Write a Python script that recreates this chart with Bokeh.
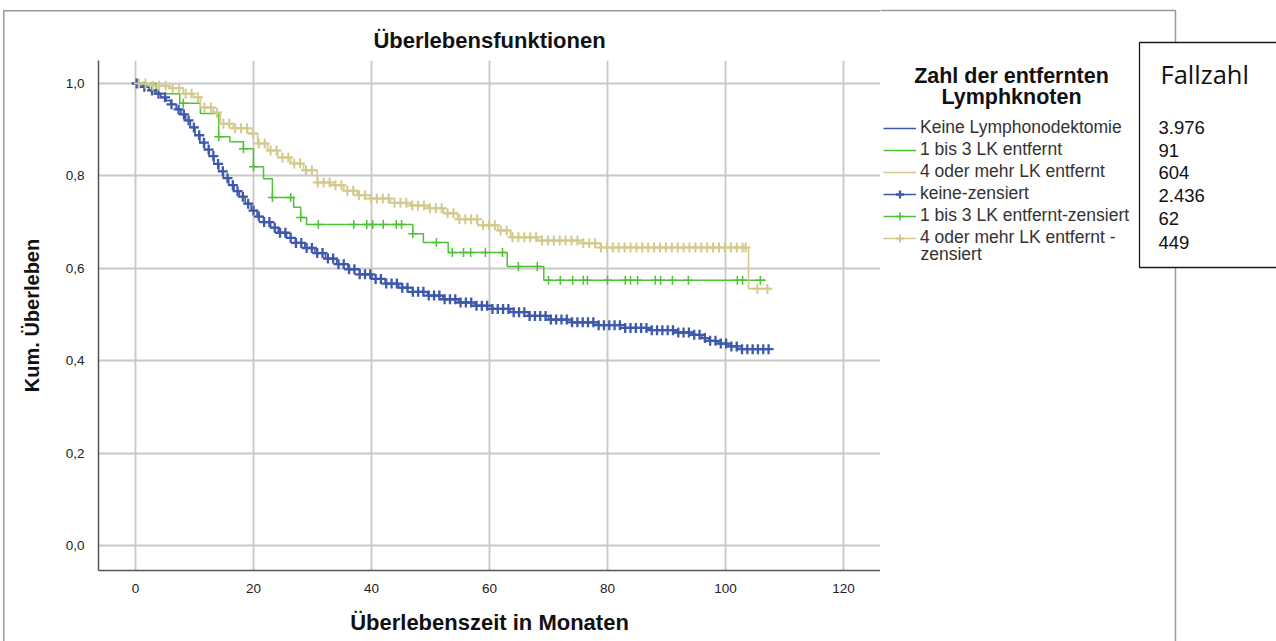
import numpy as np
from bokeh.plotting import figure
from bokeh.layouts import row
from bokeh.models import (FixedTicker, Label, BoxAnnotation, Legend, LegendItem, Range1d)
from bokeh.embed import file_html
from bokeh.resources import INLINE

# ---------------- data ----------------
x_ticks = [0, 20, 40, 60, 80, 100, 120]
y_ticks = [0.0, 0.2, 0.4, 0.6, 0.8, 1.0]
y_tick_labels = ["0,0", "0,2", "0,4", "0,6", "0,8", "1,0"]

group_labels = ["Keine Lymphonodektomie", "1 bis 3 LK entfernt", "4 oder mehr LK entfernt",
                "keine-zensiert", "1 bis 3 LK entfernt-zensiert", "4 oder mehr LK entfernt -"]
fallzahl = ["3.976", "91", "604", "2.436", "62", "449"]

blue_t = [0, 1.2, 2.3, 3.3, 4.3, 5.2, 6.0, 6.9, 7.7, 8.5, 9.3, 10.1, 10.9, 11.7, 12.5, 13.3, 14.1,
          14.9, 15.8, 16.7, 17.6, 18.6, 19.6, 20.6, 21.7, 22.9, 24.2, 25.6, 27.1, 28.7, 30.4, 32.2,
          34.1, 36.0, 38.0, 40.1, 42.3, 44.6, 47.0, 49.5, 52.1, 54.8, 57.6, 60.5, 63.5, 66.6, 70.0,
          74.0, 78.5, 83.0, 87.5, 91.5, 94.5, 96.0, 97.2, 98.8, 100.5, 102.0, 107.6]
blue_s = [1.0, 0.993, 0.985, 0.978, 0.97, 0.963, 0.955, 0.944, 0.933, 0.92, 0.905, 0.888, 0.872,
          0.857, 0.843, 0.826, 0.81, 0.795, 0.78, 0.767, 0.755, 0.74, 0.725, 0.712, 0.7, 0.688,
          0.677, 0.666, 0.655, 0.644, 0.633, 0.621, 0.609, 0.598, 0.587, 0.577, 0.567, 0.558,
          0.549, 0.541, 0.533, 0.526, 0.519, 0.512, 0.505, 0.497, 0.489, 0.483, 0.477, 0.471,
          0.466, 0.461, 0.456, 0.449, 0.443, 0.437, 0.431, 0.425, 0.425]
blue_cens = [0.2, 1.5, 2.8, 3.9, 5.0, 6.1, 7.3, 8.2, 9.0, 9.9, 10.8, 11.6, 12.4, 13.2, 14.0, 14.8,
             15.6, 16.5, 17.3, 18.2, 19.1, 20.0, 20.9, 21.8, 22.7, 23.6, 24.5, 25.4, 26.3, 27.2,
             28.1, 29.0, 29.9, 30.8, 31.7, 32.6, 33.5, 34.4, 35.3, 36.2, 37.1, 38.0, 38.9, 39.8,
             40.7, 41.6, 42.5, 43.4, 44.3, 45.2, 46.1, 47.0, 47.9, 48.8, 49.7, 50.6, 51.5, 52.4,
             53.3, 54.2, 55.1, 56.0, 56.9, 57.8, 58.7, 59.6, 60.5, 61.4, 62.3, 63.2, 64.1, 65.0,
             65.9, 66.8, 67.7, 68.6, 69.5, 70.4, 71.3, 72.2, 73.1, 74.0, 74.9, 75.8, 76.7, 77.6,
             78.5, 79.4, 80.3, 81.2, 82.1, 83.0, 83.9, 84.8, 85.7, 86.6, 87.5, 88.4, 89.3, 90.2,
             91.1, 92.0, 92.9, 93.8, 94.7, 95.6, 96.5, 97.4, 98.3, 99.2, 100.1, 101.0, 101.9,
             102.8, 103.7, 104.6, 105.5, 106.4, 107.3]

green_t = [0, 3.5, 7.5, 11.0, 14.1, 16.0, 18.3, 20.0, 21.7, 23.2, 26.8, 28.0, 29.0, 47.0, 48.8,
           53.0, 63.0, 69.2, 106.8]
green_s = [1.0, 0.978, 0.957, 0.935, 0.885, 0.874, 0.859, 0.82, 0.794, 0.753, 0.732, 0.71, 0.695,
           0.675, 0.656, 0.634, 0.604, 0.574, 0.574]
green_cens = [8.1, 14.1, 18.3, 20.0, 23.2, 26.3, 28.0, 31.0, 37.0, 39.2, 40.2, 42.0, 44.2, 45.1,
              47.0, 51.0, 53.7, 55.6, 56.8, 59.3, 62.2, 64.9, 68.1, 70.0, 72.0, 74.1, 75.9, 76.6,
              80.0, 83.0, 83.9, 85.1, 88.1, 89.0, 91.0, 93.7, 102.0, 102.9, 105.9]

tan_t = [0, 2.0, 5.9, 8.1, 9.8, 11.0, 13.2, 14.4, 16.6, 19.0, 20.7, 22.4, 24.1, 26.3, 28.5, 30.8,
         33.0, 35.3, 37.6, 39.8, 43.2, 46.6, 49.5, 52.2, 54.6, 58.0, 61.4, 63.6, 68.1, 75.9, 78.8,
         103.9, 107.6]
tan_s = [1.0, 0.995, 0.99, 0.978, 0.97, 0.948, 0.937, 0.913, 0.903, 0.892, 0.87, 0.855, 0.84,
         0.827, 0.812, 0.786, 0.78, 0.768, 0.758, 0.751, 0.742, 0.736, 0.73, 0.719, 0.706, 0.693,
         0.682, 0.667, 0.66, 0.654, 0.645, 0.556, 0.556]
tan_cens = [0.6, 1.7, 2.9, 4.0, 5.1, 6.3, 7.4, 8.5, 9.5, 10.6, 11.7, 12.8, 13.8, 14.9, 15.9, 16.9,
            17.9, 18.9, 19.9, 20.9, 21.9, 22.9, 23.9, 24.9, 25.9, 26.9, 27.9, 28.9, 29.9, 30.9,
            31.9, 32.9, 33.9, 34.9, 35.9, 36.9, 37.9, 38.9, 39.9, 40.9, 41.9, 42.9, 43.9, 44.9,
            45.9, 46.9, 47.9, 48.9, 49.9, 50.9, 51.9, 52.9, 53.9, 54.9, 55.9, 56.9, 57.9, 58.9,
            59.9, 60.9, 61.9, 62.9, 63.9, 64.9, 65.9, 66.9, 67.9, 68.9, 69.9, 70.9, 71.9, 72.9,
            73.9, 74.9, 75.9, 76.9, 77.9, 78.9, 79.9, 80.9, 81.9, 82.9, 83.9, 84.9, 85.9, 86.9,
            87.9, 88.9, 89.9, 90.9, 91.9, 92.9, 93.9, 94.9, 95.9, 96.9, 97.9, 98.9, 99.9, 100.9,
            101.9, 102.9, 103.4, 105.4, 107.1]

BLUE, GREEN, TAN = "#3e58ac", "#4cc234", "#d4c98c"
STYLES = [(BLUE, 1.6, 10, 2.3), (GREEN, 1.5, 9, 1.5), (TAN, 1.6, 10, 2.0)]

# ---------------- layout constants (pixels) ----------------
W, H = 1276, 641
FL, FR, FT, FB = 98, 880, 60, 570


def km_at(ts, ss, c):
    idx = np.searchsorted(np.array(ts), np.array(c), side="right") - 1
    return list(np.array(ss)[idx])


series = [(blue_t, blue_s, blue_cens), (green_t, green_s, green_cens), (tan_t, tan_s, tan_cens)]

# ---------------- main plot ----------------
p = figure(width=FR, height=H, output_backend="svg", toolbar_location=None,
           x_range=Range1d(-6.27, 126.27), y_range=Range1d(-0.0541, 1.0498),
           min_border_left=FL, min_border_right=0, min_border_top=FT,
           min_border_bottom=H - FB, frame_align=False,
           styles={"box-shadow": "inset 3px 10px 0 0 #ffffff, inset 4.5px 11.5px 0 0 #9a9a9a"})
p.outline_line_color = None
p.background_fill_color = "white"
p.border_fill_alpha = 0

p.title.text = "Überlebensfunktionen"
p.title.align = "center"
p.title.offset = 101
p.title.text_font = "Liberation Sans"
p.title.text_font_size = "22px"
p.title.text_font_style = "bold"
p.title.text_color = "#111111"
p.title.standoff = 16

for ax in (p.xaxis, p.yaxis):
    ax.major_tick_line_color = None
    ax.minor_tick_line_color = None
    ax.axis_line_color = "#555555"
    ax.axis_line_width = 1.5
    ax.major_label_text_font = "Liberation Sans"
    ax.major_label_text_font_size = "13.5px"
    ax.major_label_text_color = "#222222"
    ax.axis_label_text_font = "Liberation Sans"
    ax.axis_label_text_font_style = "bold"
    ax.axis_label_text_color = "#111111"

p.xaxis.axis_label_text_font_size = "22px"
p.yaxis.axis_label_text_font_size = "20px"
p.xaxis.ticker = FixedTicker(ticks=x_ticks)
p.yaxis.ticker = FixedTicker(ticks=y_ticks)
p.yaxis.major_label_overrides = {t: l for t, l in zip(y_ticks, y_tick_labels)}
p.xaxis.axis_label = "Überlebenszeit in Monaten"
p.yaxis.axis_label = "Kum. Überleben"
p.xaxis.major_label_standoff = 7
p.yaxis.major_label_standoff = 8
p.xaxis.axis_label_standoff = 14
p.yaxis.axis_label_standoff = 20
p.grid.grid_line_color = "#c8c8c8"
p.grid.grid_line_width = 1.8
p.xgrid.ticker = FixedTicker(ticks=x_ticks)
p.ygrid.ticker = FixedTicker(ticks=y_ticks)

for (ts, ss, cs), (col, lw, ms, mw) in zip(series, STYLES):
    p.step(ts, ss, mode="after", line_color=col, line_width=lw)
for (ts, ss, cs), (col, lw, ms, mw) in zip(series, STYLES):
    p.scatter(cs, km_at(ts, ss, cs), marker="cross", size=ms, line_color=col, line_width=mw)

# ---------------- right panel: legend and case counts (pixel coordinates) ----------------
RW = W - FR
p2 = figure(width=RW, height=H, output_backend="svg", toolbar_location=None,
            x_range=Range1d(FR, W), y_range=Range1d(H, 0),
            min_border=0, min_border_left=0, min_border_right=0, min_border_top=0,
            min_border_bottom=0, x_axis_location=None, y_axis_location=None,
            frame_align=False)
p2.title.visible = False
p2.grid.visible = False
p2.outline_line_color = None
p2.background_fill_color = "white"
p2.border_fill_color = "white"

# the legend renderers hold the same series; in this panel's pixel ranges they fall off-canvas
line_r, cross_r = [], []
for (ts, ss, cs), (col, lw, ms, mw) in zip(series, STYLES):
    line_r.append(p2.step(ts, ss, mode="after", line_color=col, line_width=lw))
    cross_r.append(p2.scatter(cs, km_at(ts, ss, cs), marker="cross", size=ms,
                              line_color=col, line_width=mw))

# outer frame of the chart (top and right edge) and case-count box
p2.add_layout(BoxAnnotation(left=FR - 20, right=1175, top=10, bottom=H + 60, fill_alpha=0,
                            line_color="#9a9a9a", line_alpha=1, line_width=1.5))
p2.add_layout(BoxAnnotation(left=1139, right=W + 20, top=42, bottom=267, fill_color="white",
                            fill_alpha=1, line_color="#1a1a1a", line_alpha=1, line_width=1.3))

legend = Legend(items=[
    LegendItem(label=group_labels[0], renderers=[line_r[0]]),
    LegendItem(label=group_labels[1], renderers=[line_r[1]]),
    LegendItem(label=group_labels[2], renderers=[line_r[2]]),
    LegendItem(label=group_labels[3], renderers=[line_r[0], cross_r[0]]),
    LegendItem(label=group_labels[4], renderers=[line_r[1], cross_r[1]]),
    LegendItem(label=group_labels[5], renderers=[line_r[2], cross_r[2]]),
], location=(3, 393), padding=0, margin=0, border_line_color=None,
    background_fill_alpha=0, label_text_font="Liberation Sans", label_text_font_size="17.5px",
    label_text_color="#333333", glyph_width=33, glyph_height=20, label_height=20,
    label_standoff=4, spacing=1)
p2.add_layout(legend, "center")


def lab(text, px, py, size, align="left", bold=False, font="Liberation Sans", color="#111111"):
    p2.add_layout(Label(x=px, y=py, text=text, text_font=font, text_font_size=size,
                        text_align=align, text_baseline="middle", text_color=color,
                        text_font_style="bold" if bold else "normal"))


lab("Zahl der entfernten", 1011, 75, "21.5px", "center", True)
lab("Lymphknoten", 1011, 96, "21.5px", "center", True)
lab("zensiert", 920, 253, "17.5px", color="#333333")
lab("Fallzahl", 1160, 73, "25.5px", font="Open Sans", color="#111111")
for txt, yy in zip(fallzahl, [127, 150, 172, 195, 218, 242]):
    lab(txt, 1158, yy, "18.5px", color="#111111")

layout = row(p, p2, spacing=0)
open("out.html", "w").write(file_html(layout, INLINE))
